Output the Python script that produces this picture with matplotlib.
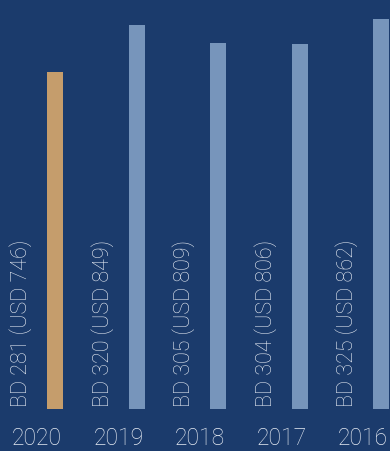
import matplotlib
matplotlib.use("Agg")
import matplotlib.pyplot as plt

years = ["2020", "2019", "2018", "2017", "2016"]
bd_values = [281, 320, 305, 304, 325]
usd_values = [746, 849, 809, 806, 862]
labels = [f"BD {b} (USD {u})" for b, u in zip(bd_values, usd_values)]

bg = "#1b3b6c"
colors = ["#c59d6c", "#7795bb", "#7795bb", "#7795bb", "#7795bb"]

fig = plt.figure(figsize=(3.9, 4.51), dpi=100)
fig.patch.set_facecolor(bg)
ax = fig.add_axes([0, (451 - 409) / 451, 1, 409 / 451])
ax.set_facecolor(bg)
x = list(range(len(years)))
ax.bar(x, bd_values, width=0.196, color=colors)
ax.set_xlim(-0.675, 4.11)
ax.set_ylim(0, 340.8)
ax.axis("off")

for i, (lab, yr) in enumerate(zip(labels, years)):
    ax.text(i - 0.42, 1.5, lab, rotation=90, ha="center", va="bottom",
            color="#e6ebf3", fontsize=15.5, family="Roboto", fontweight="light")
    ax.text(i - 0.22, -24.2, yr, ha="center", va="center", color="#e6ebf3",
            fontsize=16.5, family="Roboto", fontweight="light", clip_on=False)

fig.savefig("out.png", dpi=100, facecolor=bg)
